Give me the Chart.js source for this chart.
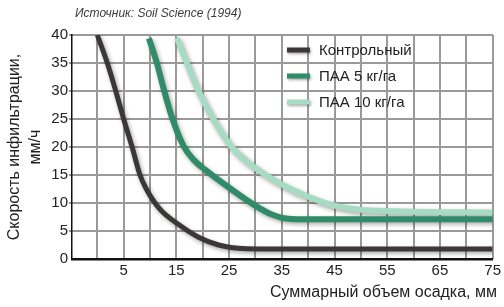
<!DOCTYPE html>
<html>
<head>
<meta charset="utf-8">
<script src="https://cdn.jsdelivr.net/npm/chart.js@4.4.1/dist/chart.umd.min.js"></script>
<style>
  html, body { margin: 0; padding: 0; background: #fff; }
  #wrap { position: relative; width: 504px; height: 307px; }
  #grid { position: absolute; left: 0; top: 0; width: 504px; height: 307px; z-index: 0; }
  #grid div { position: absolute; background: #9a9a9a; }
  #infChart { position: relative; z-index: 1; }
</style>
</head>
<body>
<div id="wrap">
  <div id="grid"></div>
  <canvas id="infChart" width="504" height="307"></canvas>
</div>
<script>
// подписи и данные
const sourceText = 'Источник: Soil Science (1994)';
const xTitle = 'Суммарный объем осадка, мм';
const yTitle = ['Скорость инфильтрации,', 'мм/ч'];
const seriesLabels = ['Контрольный', 'ПАА 5 кг/га', 'ПАА 10 кг/га'];

const controlX = [0, 1.9, 3.5, 5.0, 6.6, 8.1, 9.3, 11.7, 15.5, 19.2, 23.0, 26.8, 30.5, 75];
const controlY = [40, 35, 30, 25, 20, 15, 12.5, 9.1, 6.1, 3.9, 2.5, 1.9, 1.8, 1.8];

const paa5X = [9.8, 11.3, 12.7, 14.1, 16.4, 18.3, 20.5, 25.5, 30.2, 33.0, 36.2, 40, 75];
const paa5Y = [39.4, 35, 30, 25.5, 20.1, 17.7, 15.9, 12.4, 9.4, 8.0, 7.2, 7.1, 7.1];

const paa10X = [15.1, 17.0, 19.2, 22.0, 25.5, 29.9, 35.6, 40.6, 45.6, 53.1, 75];
const paa10Y = [39.5, 35, 30, 25, 20, 16.3, 13.0, 10.9, 9.4, 8.6, 8.3];

const xTicks = [0, 5, 10, 15, 20, 25, 30, 35, 40, 45, 50, 55, 60, 65, 70, 75];
const yTicks = [0, 5, 10, 15, 20, 25, 30, 35, 40];

const colors = ['#3b3737', '#2f8b69', '#a8dbc3'];
const fontFamily = '"Liberation Sans", Arial, sans-serif';

function toPoints(xs, ys) {
    return xs.map((x, i) => ({ x: x, y: ys[i] }));
}

// тень под кривыми
const shadowPlugin = {
    id: 'curveShadow',
    beforeDatasetsDraw(chart) {
        const ctx = chart.ctx;
        ctx.save();
        ctx.shadowColor = 'rgba(0,0,0,0.35)';
        ctx.shadowBlur = 4;
        ctx.shadowOffsetX = 1.5;
        ctx.shadowOffsetY = 2;
    },
    afterDatasetsDraw(chart) {
        chart.ctx.restore();
    }
};

// подписи осей, легенда и источник
const overlayPlugin = {
    id: 'overlay',
    afterDraw(chart) {
        const ctx = chart.ctx;
        const area = chart.chartArea;
        ctx.save();
        ctx.setTransform(1, 0, 0, 1, 0, 0);
        ctx.textBaseline = 'middle';

        ctx.font = 'italic 12px ' + fontFamily;
        ctx.fillStyle = '#3a3a3a';
        ctx.textAlign = 'left';
        ctx.fillText(sourceText, 75, 14);

        ctx.font = '16px ' + fontFamily;
        ctx.fillStyle = '#222';
        ctx.textAlign = 'right';
        ctx.fillText(xTitle, 497, 293);

        ctx.save();
        ctx.translate(0, (area.top + area.bottom) / 2);
        ctx.rotate(-Math.PI / 2);
        ctx.textAlign = 'center';
        ctx.fillText(yTitle[0], 0, 15);
        ctx.fillText(yTitle[1], 0, 36);
        ctx.restore();

        ctx.font = '15px ' + fontFamily;
        ctx.textAlign = 'left';
        chart.data.datasets.forEach((ds, i) => {
            const y = 50 + i * 26;
            ctx.save();
            ctx.shadowColor = 'rgba(0,0,0,0.35)';
            ctx.shadowBlur = 3;
            ctx.shadowOffsetX = 1;
            ctx.shadowOffsetY = 1.5;
            ctx.fillStyle = ds.borderColor;
            ctx.fillRect(287, y - 2.5, 23, 5);
            ctx.restore();
            ctx.fillStyle = '#222';
            ctx.fillText(ds.label, 319, y + 1);
        });
        ctx.restore();
    }
};

const chart = new Chart(document.getElementById('infChart'), {
    type: 'line',
    data: {
        datasets: [
            { label: seriesLabels[0], data: toPoints(controlX, controlY), borderColor: colors[0], backgroundColor: colors[0], borderWidth: 5 },
            { label: seriesLabels[1], data: toPoints(paa5X, paa5Y), borderColor: colors[1], backgroundColor: colors[1], borderWidth: 6 },
            { label: seriesLabels[2], data: toPoints(paa10X, paa10Y), borderColor: colors[2], backgroundColor: colors[2], borderWidth: 6 }
        ]
    },
    options: {
        responsive: false,
        animation: false,
        devicePixelRatio: 1,
        layout: { padding: { top: 35, right: 0, left: 0, bottom: 0 } },
        elements: {
            point: { radius: 0 },
            line: { cubicInterpolationMode: 'monotone', borderCapStyle: 'butt' }
        },
        plugins: {
            legend: { display: false },
            tooltip: { enabled: false }
        },
        scales: {
            x: {
                type: 'linear',
                min: -4.8,
                max: 75,
                afterBuildTicks: scale => { scale.ticks = xTicks.map(v => ({ value: v })); },
                afterFit: scale => { scale.height = 48; },
                grid: { display: false, drawTicks: false },
                border: { color: '#111', width: 2.5 },
                ticks: {
                    padding: 3,
                    color: '#222',
                    font: { family: fontFamily, size: 15 },
                    maxRotation: 0,
                    autoSkip: false,
                    callback: v => (v % 10 === 5 ? String(v) : '')
                }
            },
            y: {
                min: 0,
                max: 40,
                afterBuildTicks: scale => { scale.ticks = yTicks.map(v => ({ value: v })); },
                afterFit: scale => { scale.width = 72; },
                grid: { display: false, drawTicks: false },
                border: { color: '#111', width: 1.5 },
                ticks: {
                    padding: 4,
                    color: '#222',
                    font: { family: fontFamily, size: 15 }
                }
            }
        }
    },
    plugins: [shadowPlugin, overlayPlugin]
});

// сетка: позиции берутся из шкал графика
function buildGrid() {
    const box = document.getElementById('grid');
    const area = chart.chartArea;
    const sx = chart.scales.x;
    const sy = chart.scales.y;
    box.innerHTML = '';
    xTicks.forEach(v => {
        const d = document.createElement('div');
        d.style.left = (Math.round(sx.getPixelForValue(v)) - 1) + 'px';
        d.style.top = area.top + 'px';
        d.style.width = '2px';
        d.style.height = (area.bottom - area.top) + 'px';
        box.appendChild(d);
    });
    yTicks.forEach(v => {
        if (v === 0) return;
        const d = document.createElement('div');
        d.style.left = (area.left - 3) + 'px';
        d.style.top = (Math.round(sy.getPixelForValue(v)) - 1) + 'px';
        d.style.width = (area.right - area.left + 3) + 'px';
        d.style.height = '2px';
        box.appendChild(d);
    });
}
buildGrid();
</script>
</body>
</html>
